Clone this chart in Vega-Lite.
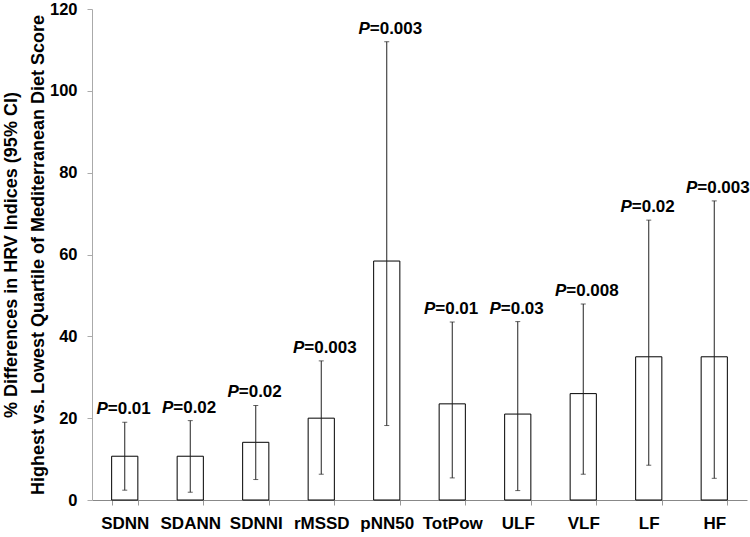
{
  "$schema": "https://vega.github.io/schema/vega-lite/v6.json",
  "width": 655,
  "height": 491,
  "autosize": {"type": "none"},
  "padding": {"left": 92, "top": 9, "right": 3, "bottom": 37},
  "background": "white",
  "config": {
    "view": {"stroke": null},
    "font": "Liberation Sans",
    "axis": {"labelFont": "Liberation Sans", "titleFont": "Liberation Sans", "labelFontWeight": "bold", "labelColor": "black", "titleColor": "black", "grid": false}
  },
  "data": {
    "values": [
      {"index": "SDNN", "pct": 10.7, "lo": 2.4, "hi": 19.0, "p": "=0.01"},
      {"index": "SDANN", "pct": 10.7, "lo": 1.9, "hi": 19.4, "p": "=0.02"},
      {"index": "SDNNI", "pct": 14.1, "lo": 5.0, "hi": 23.1, "p": "=0.02"},
      {"index": "rMSSD", "pct": 20.0, "lo": 6.3, "hi": 34.0, "p": "=0.003"},
      {"index": "pNN50", "pct": 58.4, "lo": 18.2, "hi": 112.0, "p": "=0.003"},
      {"index": "TotPow", "pct": 23.5, "lo": 5.4, "hi": 43.5, "p": "=0.01"},
      {"index": "ULF", "pct": 21.0, "lo": 2.3, "hi": 43.6, "p": "=0.03"},
      {"index": "VLF", "pct": 26.0, "lo": 6.3, "hi": 47.9, "p": "=0.008"},
      {"index": "LF", "pct": 35.0, "lo": 8.5, "hi": 68.4, "p": "=0.02"},
      {"index": "HF", "pct": 35.0, "lo": 5.3, "hi": 73.1, "p": "=0.003"}
    ]
  },
  "encoding": {
    "x": {
      "field": "index",
      "type": "nominal",
      "sort": null,
      "scale": {"paddingInner": 0.6, "paddingOuter": 0.3},
      "axis": {
        "title": null,
        "labelAngle": 0,
        "labelFontSize": 17,
        "labelPadding": 10,
        "tickBand": "extent",
        "tickSize": 5,
        "tickColor": "#999999",
        "domainColor": "#888888",
        "labelColor": "black"
      }
    }
  },
  "layer": [
    {
      "mark": {"type": "bar", "fill": "white", "stroke": "black", "strokeWidth": 1},
      "encoding": {
        "y": {
          "field": "pct",
          "type": "quantitative",
          "scale": {"domain": [0, 120], "nice": false},
          "axis": {
            "values": [0, 20, 40, 60, 80, 100, 120],
            "labelFontSize": 16.5,
            "labelPadding": 10,
            "tickSize": 5,
            "tickColor": "#aaaaaa",
            "domainColor": "#aaaaaa",
            "title": ["% Differences in HRV Indices (95% CI)", "Highest vs. Lowest Quartile of Mediterranean Diet Score"],
            "titleFontSize": 18,
            "titleFontWeight": "bold",
            "titleLineHeight": 27,
            "titlePadding": 2
          }
        }
      }
    },
    {
      "mark": {"type": "rule", "color": "#222222", "strokeWidth": 1},
      "encoding": {
        "y": {"field": "lo", "type": "quantitative"},
        "y2": {"field": "hi"}
      }
    },
    {
      "mark": {"type": "tick", "color": "#222222", "thickness": 1, "size": 5, "orient": "horizontal"},
      "encoding": {"y": {"field": "lo", "type": "quantitative"}}
    },
    {
      "mark": {"type": "tick", "color": "#222222", "thickness": 1, "size": 5, "orient": "horizontal"},
      "encoding": {"y": {"field": "hi", "type": "quantitative"}}
    },
    {
      "mark": {"type": "text", "text": "P", "font": "Liberation Sans", "fontSize": 17, "fontWeight": "bold", "fontStyle": "italic", "align": "right", "baseline": "alphabetic", "dx": -17, "dy": -8},
      "encoding": {"y": {"field": "hi", "type": "quantitative"}}
    },
    {
      "mark": {"type": "text", "font": "Liberation Sans", "fontSize": 17, "fontWeight": "bold", "align": "left", "baseline": "alphabetic", "dx": -17, "dy": -8},
      "encoding": {
        "y": {"field": "hi", "type": "quantitative"},
        "text": {"field": "p"}
      }
    }
  ]
}
